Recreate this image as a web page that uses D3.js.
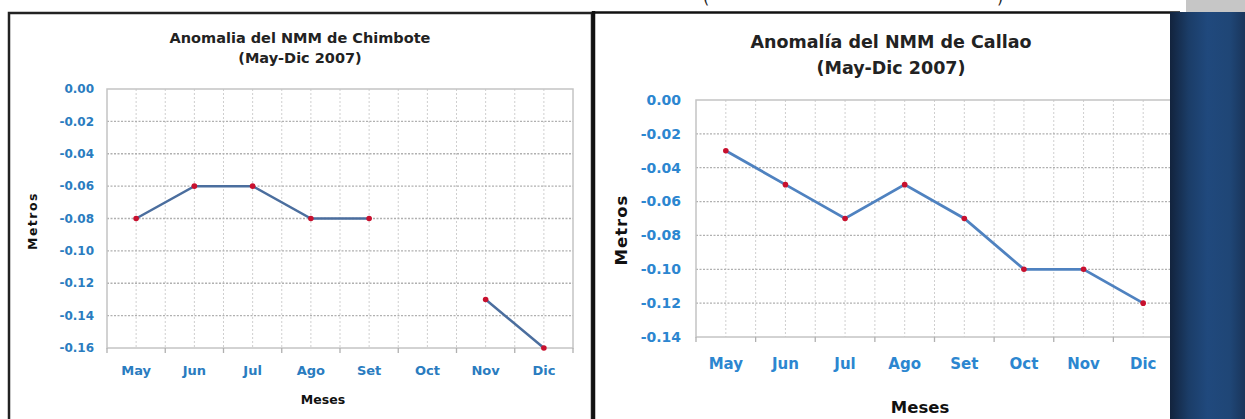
<!DOCTYPE html>
<html><head><meta charset="utf-8">
<script src="https://cdn.jsdelivr.net/npm/d3@7"></script>
<style>html,body{margin:0;padding:0;background:#fff;}svg{display:block;font-family:"DejaVu Sans","Lato",sans-serif;}</style>
</head><body>
<script>
const months = ["May","Jun","Jul","Ago","Set","Oct","Nov","Dic"];
const chimbote = [-0.08,-0.06,-0.06,-0.08,-0.08,null,-0.13,-0.16];
const callao = [-0.03,-0.05,-0.07,-0.05,-0.07,-0.10,-0.10,-0.12];
const ticksChimbote = [0,-0.02,-0.04,-0.06,-0.08,-0.10,-0.12,-0.14,-0.16];
const ticksCallao = [0,-0.02,-0.04,-0.06,-0.08,-0.10,-0.12,-0.14];
const titlesChimbote = ["Anomalia del NMM de Chimbote","(May-Dic 2007)"];
const titlesCallao = ["Anomalía del NMM de Callao","(May-Dic 2007)"];

const W=1245,H=419;
const svg=d3.select("body").append("svg").attr("width",W).attr("height",H);
const defs=svg.append("defs");
const g=defs.append("linearGradient").attr("id","bar").attr("x1","0").attr("x2","1").attr("y1","0").attr("y2","0");
[["0%","#12233d"],["25%","#1b3d68"],["50%","#20497d"],["80%","#1f4676"],["100%","#19355b"]].forEach(s=>g.append("stop").attr("offset",s[0]).attr("stop-color",s[1]));

// top partial text (cut off at the top edge, as in the reference)
svg.append("text").attr("x",703).attr("y",3).attr("font-size",16).attr("fill","#222").text("(");
svg.append("text").attr("x",997).attr("y",3).attr("font-size",16).attr("fill","#222").text(")");

// panel borders
svg.append("rect").attr("x",9).attr("y",13).attr("width",583).attr("height",420).attr("fill","none").attr("stroke","#222").attr("stroke-width",2.5);
svg.append("line").attr("x1",593.5).attr("x2",593.5).attr("y1",11).attr("y2",H).attr("stroke","#111").attr("stroke-width",3.5);
svg.append("line").attr("x1",592).attr("x2",1180).attr("y1",12.5).attr("y2",12.5).attr("stroke","#111").attr("stroke-width",2.5);

const fmt=d=>d3.format(".2f")(d).replace("\u2212","-");

function chart(cfg){
  const x=d3.scaleBand().domain(months).range([cfg.x0,cfg.x1]);
  const bw=x.bandwidth();
  const cx=m=>x(m)+bw/2;
  const y=d3.scaleLinear().domain([d3.min(cfg.ticks),0]).range([cfg.y1,cfg.y0]);
  const G=svg.append("g");
  const vpos=[];
  months.forEach(m=>{vpos.push(x(m)+bw/2); if(m!==months[0]) vpos.push(x(m));});
  G.selectAll("line.v").data(vpos).join("line").attr("x1",d=>d).attr("x2",d=>d)
    .attr("y1",cfg.y0).attr("y2",cfg.y1).attr("stroke","#cfcfcf").attr("stroke-width",1).attr("stroke-dasharray","2,2");
  G.selectAll("line.h").data(cfg.ticks.filter(t=>t!==0&&t!==d3.min(cfg.ticks))).join("line")
    .attr("x1",cfg.x0).attr("x2",cfg.x1).attr("y1",d=>y(d)).attr("y2",d=>y(d))
    .attr("stroke","#b0b0b0").attr("stroke-width",1.3).attr("stroke-dasharray","2,1.5");
  G.append("rect").attr("x",cfg.x0).attr("y",cfg.y0).attr("width",cfg.x1-cfg.x0).attr("height",cfg.y1-cfg.y0)
    .attr("fill","none").attr("stroke","#c4c4c4").attr("stroke-width",1.5);
  const bounds=months.map(m=>x(m)).concat([cfg.x1]);
  G.selectAll("line.t").data(bounds).join("line").attr("x1",d=>d).attr("x2",d=>d)
    .attr("y1",cfg.y1).attr("y2",cfg.y1+5).attr("stroke","#b0b0b0").attr("stroke-width",1.3);
  G.selectAll("text.y").data(cfg.ticks).join("text").attr("x",cfg.x0-cfg.ylabGap).attr("y",d=>y(d))
    .attr("dy","0.35em").attr("text-anchor","end").attr("font-size",cfg.fsY).attr("font-weight","bold")
    .attr("fill",cfg.labColor).text(fmt);
  G.selectAll("text.x").data(months).join("text").attr("x",d=>cx(d)).attr("y",cfg.xlabY)
    .attr("dy","0.35em").attr("text-anchor","middle").attr("font-size",cfg.fsX).attr("font-weight","bold")
    .attr("fill",cfg.labColor).text(d=>d);
  const pts=months.map((m,i)=>({m,v:cfg.data[i]}));
  G.append("path").datum(pts).attr("fill","none").attr("stroke",cfg.lineColor).attr("stroke-width",cfg.lw)
    .attr("d",d3.line().defined(d=>d.v!==null).x(d=>cx(d.m)).y(d=>y(d.v)));
  G.selectAll("circle").data(pts.filter(d=>d.v!==null)).join("circle").attr("cx",d=>cx(d.m)).attr("cy",d=>y(d.v))
    .attr("r",cfg.r).attr("fill","#c8102e");
  cfg.titles.forEach((t,i)=>G.append("text").attr("x",cfg.tx).attr("y",cfg.ty[i]).attr("dy","0.35em")
    .attr("text-anchor","middle").attr("font-size",cfg.fsT).attr("font-weight","bold").attr("fill","#222").text(t));
  G.append("text").attr("x",cfg.mx).attr("y",cfg.my).attr("dy","0.35em").attr("text-anchor","middle")
    .attr("font-size",cfg.fsM).attr("font-weight","bold").attr("fill","#111").text("Meses");
  G.append("text").attr("transform",`translate(${cfg.ax},${cfg.ay}) rotate(-90)`).attr("dy","0.35em")
    .attr("text-anchor","middle").attr("font-size",cfg.fsA).attr("letter-spacing",cfg.ls).attr("font-weight","bold").attr("fill","#111").text("Metros");
}

chart({x0:107,x1:573,y0:89,y1:348,ticks:ticksChimbote,data:chimbote,titles:titlesChimbote,
  tx:300,ty:[38,58],fsT:14.5,fsY:12,fsX:13,fsM:12.5,fsA:12.5,ls:1.5,ylabGap:13,xlabY:370,mx:323,my:400,ax:33,ay:221,
  labColor:"#2a7cc0",lineColor:"#4b6e9e",lw:2.5,r:2.8});
chart({x0:696,x1:1173,y0:100,y1:337,ticks:ticksCallao,data:callao,titles:titlesCallao,
  tx:891,ty:[42,68],fsT:17.5,fsY:14,fsX:15,fsM:16.5,fsA:16.5,ls:1,ylabGap:15,xlabY:364,mx:920,my:407,ax:621,ay:230,
  labColor:"#2c86d0",lineColor:"#4f82c0",lw:2.8,r:2.8});

svg.append("rect").attr("x",1186).attr("y",0).attr("width",59).attr("height",12).attr("fill","#c6c6c6");
svg.append("rect").attr("x",1170).attr("y",12).attr("width",75).attr("height",H-12).attr("fill","url(#bar)");
</script>
</body></html>
